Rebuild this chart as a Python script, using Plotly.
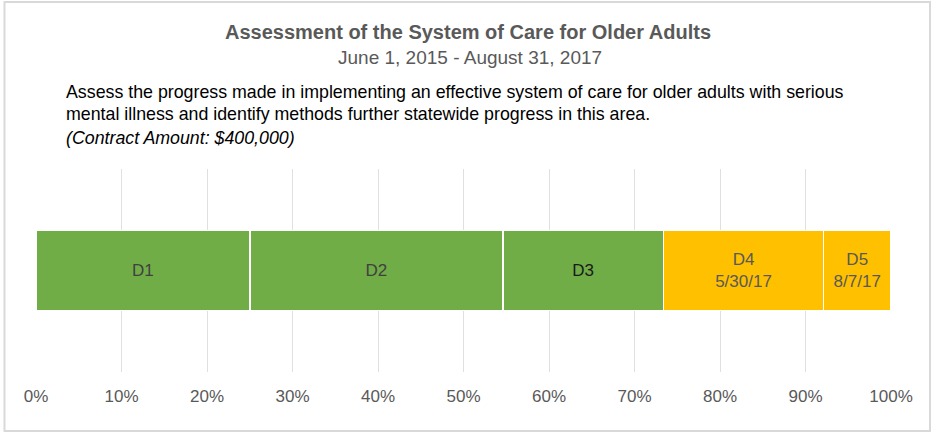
import plotly.graph_objects as go

# ---- data ----
phases = ["D1", "D2", "D3", "D4", "D5"]
shares = [25.0, 29.6, 18.8, 18.7, 7.9]          # percent of contract period
labels = ["D1", "D2", "D3", "D4<br>5/30/17", "D5<br>8/7/17"]
colors = ["#70AD47", "#70AD47", "#70AD47", "#FFC000", "#FFC000"]
label_colors = ["#404040", "#404040", "#1a1a1a", "#595959", "#595959"]
tick_vals = [0, 10, 20, 30, 40, 50, 60, 70, 80, 90, 100]
tick_text = [f"{v}%" for v in tick_vals]

title = "Assessment of the System of Care for Older Adults"
subtitle = "June 1, 2015 - August 31, 2017"
desc1 = "Assess the progress made in implementing an effective system of care for older adults with serious"
desc2 = "mental illness and identify methods further statewide progress in this area."
desc3 = "(Contract Amount: $400,000)"

FONT = "Liberation Sans, Arial, sans-serif"

W, H = 938, 434
L, R, T, B = 36, 891, 169, 372  # plot area pixel bounds


def px(xp):
    return (xp - L) / (R - L)


def py(yp):
    return (B - yp) / (B - T)


fig = go.Figure()
for name, val, lab, col, lc in zip(phases, shares, labels, colors, label_colors):
    fig.add_trace(go.Bar(
        y=["Project"], x=[val], orientation="h", name=name,
        marker=dict(color=col, line=dict(color="white", width=1.5)),
        text=[lab], textposition="inside", insidetextanchor="middle",
        textfont=dict(family=FONT, size=17, color=lc),
        hoverinfo="skip", width=0.395,
    ))

fig.update_layout(
    barmode="stack", width=W, height=H, showlegend=False,
    margin=dict(l=L, r=W - R, t=T, b=H - B),
    paper_bgcolor="white", plot_bgcolor="white",
    uniformtext=dict(minsize=17, mode="show"),
    font=dict(family=FONT, color="#595959"),
    xaxis=dict(range=[0, 100], tickvals=tick_vals, ticktext=tick_text,
               showgrid=True, gridcolor="#e0e0e0", gridwidth=1, zeroline=False,
               showline=False, ticks="", ticklabelstandoff=12,
               tickfont=dict(family=FONT, size=17, color="#595959")),
    yaxis=dict(showticklabels=False, showgrid=False, zeroline=False,
               range=[-0.5, 0.5]),
)

fig.add_annotation(text=f"<b>{title}</b>", x=px(468), y=py(32), xref="paper", yref="paper",
                   showarrow=False, xanchor="center", yanchor="middle",
                   font=dict(family=FONT, size=20, color="#595959"))
fig.add_annotation(text=subtitle, x=px(470), y=py(58), xref="paper", yref="paper",
                   showarrow=False, xanchor="center", yanchor="middle",
                   font=dict(family=FONT, size=19, color="#595959"))
for txt, yy, it in [(desc1, 92, False), (desc2, 114, False), (desc3, 138, True)]:
    fig.add_annotation(text=f"<i>{txt}</i>" if it else txt, x=px(64), y=py(yy),
                       xref="paper", yref="paper", showarrow=False,
                       xanchor="left", yanchor="middle",
                       font=dict(family=FONT, size=17.8, color="#000000"))

# outer frame
fig.add_shape(type="rect", xref="paper", yref="paper",
              x0=px(4.5), x1=px(930), y0=py(431), y1=py(2),
              line=dict(color="#d9d9d9", width=2), fillcolor="rgba(0,0,0,0)")

fig.write_html("out.html")
